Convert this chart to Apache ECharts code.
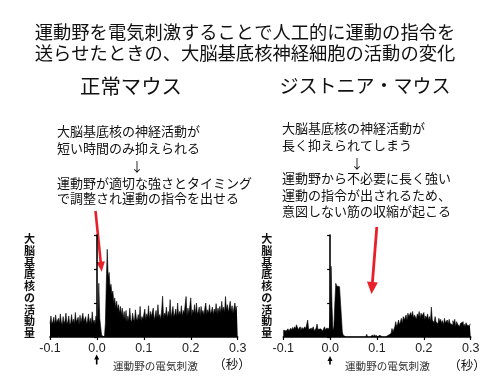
<!DOCTYPE html>
<html>
<head>
<meta charset="utf-8">
<script src="https://cdn.jsdelivr.net/npm/echarts@6/dist/echarts.min.js"></script>
<style>html,body{margin:0;padding:0;background:#fff}#c{width:500px;height:383px}</style>
</head>
<body>
<div id="c"></div>
<script>
// ---- data ----
const binStart = -0.1;
const binWidth = 0.002;
const xTicks = [-0.1, 0.0, 0.1, 0.2, 0.3];
const titleLines = ['運動野を電気刺激することで人工的に運動の指令を', '送らせたときの、大脳基底核神経細胞の活動の変化'];
const panelTitles = ['正常マウス', 'ジストニア・マウス'];
const yLabel = '大脳基底核の活動量';
const stimLabel = '運動野の電気刺激';
const unitLabel = '（秒）';
const noteNormal = ['大脳基底核の神経活動が', '短い時間のみ抑えられる', '↓', '運動野が適切な強さとタイミング', 'で調整され運動の指令を出せる'];
const noteDystonia = ['大脳基底核の神経活動が', '長く抑えられてしまう', '↓', '運動野から不必要に長く強い', '運動の指令が出されるため、', '意図しない筋の収縮が起こる'];

// activity per 2 ms bin, -0.1 s .. 0.3 s (200 bins)
const normalActivity = [
  0.40,0.62,0.38,0.45,0.58,0.35,0.65,0.42,0.40,0.55,
  0.38,0.68,0.44,0.36,0.60,0.40,0.48,0.70,0.38,0.45,
  0.62,0.36,0.42,0.66,0.40,0.52,0.38,0.72,0.44,0.40,
  0.58,0.36,0.64,0.42,0.38,0.70,0.45,0.40,0.60,0.37,
  0.48,0.68,0.40,0.55,0.36,0.74,0.42,0.50,0.38,0.62,
  0.45,0.60,1.58,0.55,0.30,0.05,0.10,0.00,0.05,0.40,
  1.60,2.58,1.75,1.90,1.45,1.55,1.25,1.35,1.00,1.15,
  0.85,1.05,0.80,0.95,0.70,0.90,0.65,0.85,0.55,0.75,
  0.50,0.78,0.45,0.62,0.48,0.85,0.50,0.44,0.70,0.52,
  0.46,0.80,0.55,0.48,0.66,0.50,0.90,0.47,0.60,0.52,
  0.55,0.82,0.50,0.68,0.58,0.92,0.52,0.75,0.60,0.55,
  0.85,0.50,0.62,0.78,0.55,0.95,0.58,0.66,0.52,0.80,
  1.20,0.56,0.70,0.62,0.88,0.55,0.75,0.60,1.10,0.58,
  0.72,0.90,0.60,0.68,0.82,0.58,1.00,0.62,0.75,0.65,
  0.92,0.60,0.78,0.70,0.65,1.19,0.62,0.85,0.68,0.72,
  1.15,0.62,0.80,0.70,0.95,0.65,1.00,0.68,0.75,0.88,
  0.62,0.90,0.70,0.78,0.64,0.85,1.00,0.66,0.80,0.70,
  0.95,0.68,0.75,0.88,0.65,0.82,0.72,0.98,0.68,0.85,
  0.72,0.90,0.70,1.05,0.75,0.88,0.72,1.19,0.80,0.95,
  0.72,0.88,1.05,0.75,0.92,0.70,0.85,1.00,0.78,0.90
];
const dystoniaActivity = [
  0.20,0.22,0.18,0.22,0.20,0.24,0.18,0.22,0.26,0.20,
  0.28,0.22,0.30,0.24,0.36,0.32,0.22,0.26,0.30,0.20,
  0.28,0.22,0.18,0.30,0.24,0.20,0.50,0.22,0.18,0.26,
  0.20,0.24,0.30,0.18,0.22,0.26,0.38,0.22,0.18,0.24,
  0.20,0.28,0.18,0.22,0.30,0.20,0.26,0.22,0.24,0.20,
  0.60,2.08,0.90,0.20,0.30,1.00,1.58,1.50,1.55,1.48,
  1.45,1.46,0.60,0.15,0.05,0.00,0.00,0.00,0.00,0.00,
  0.00,0.00,0.00,0.00,0.00,0.00,0.00,0.00,0.00,0.00,
  0.00,0.00,0.00,0.00,0.00,0.00,0.00,0.00,0.00,0.08,
  0.00,0.00,0.00,0.00,0.00,0.06,0.00,0.07,0.00,0.06,
  0.00,0.00,0.05,0.00,0.06,0.00,0.00,0.00,0.00,0.00,
  0.05,0.05,0.06,0.10,0.10,0.12,0.25,0.15,0.20,0.30,
  0.45,0.30,0.38,0.50,0.35,0.45,0.55,0.40,0.60,0.50,
  0.55,0.65,0.50,0.70,0.60,0.55,0.72,0.60,0.75,0.55,
  0.65,0.70,0.52,0.68,0.60,0.75,0.55,0.70,0.62,0.58,
  0.72,0.50,0.62,0.55,0.68,0.50,0.60,0.45,0.88,0.50,
  0.55,0.42,0.60,0.45,0.50,0.38,0.55,0.45,0.52,0.40,
  0.48,0.35,0.55,0.42,0.45,0.50,0.38,0.52,0.40,0.45,
  0.35,0.48,0.40,0.52,0.30,0.45,0.38,0.42,0.30,0.40,
  0.35,0.45,0.32,0.38,0.30,0.42,0.35,0.40,0.32,0.38
];

function toSteps(vals) {
  const pts = vals.map((v, i) => [Math.round((binStart + i * binWidth) * 10000) / 10000, v]);
  pts.push([Math.round((binStart + vals.length * binWidth) * 10000) / 10000, vals[vals.length - 1]]);
  return pts;
}

const JP = "'Noto Sans CJK JP', sans-serif";
const grids = [
  { left: 50, top: 235, width: 187.7, height: 102 },
  { left: 283.3, top: 235, width: 187.4, height: 102 }
];
function xAx(g) {
  return {
    type: 'value', gridIndex: g, min: xTicks[0], max: xTicks[xTicks.length - 1], interval: 0.1,
    axisLine: { lineStyle: { color: '#000', width: 1.6 } },
    axisTick: { length: 3, lineStyle: { color: '#000', width: 1.2 } },
    axisLabel: { margin: 5, fontSize: 12.5, color: '#222', fontFamily: "'Liberation Sans', Arial, sans-serif",
      formatter: v => v.toFixed(1) },
    splitLine: { show: false }
  };
}
function yAx(g) {
  return {
    type: 'value', gridIndex: g, min: 0, max: 3, interval: 1,
    axisLine: { show: true, lineStyle: { color: '#000', width: 1.6 } },
    axisTick: { show: true, length: 3, lineStyle: { color: '#000', width: 1.2 } },
    axisLabel: { show: false }, splitLine: { show: false }
  };
}
function hist(vals, g) {
  return {
    type: 'line', xAxisIndex: g, yAxisIndex: g, data: toSteps(vals), step: 'end',
    symbol: 'none', silent: true, animation: false,
    lineStyle: { color: '#000', width: 0.6 },
    areaStyle: { color: '#000', opacity: 1 }
  };
}

function txt(text, x, y, size, opts) {
  return { type: 'text', silent: true, style: Object.assign({
    text: text, x: x, y: y, fontSize: size, fontFamily: JP, fill: '#111',
    align: 'center', verticalAlign: 'middle' }, opts || {}) };
}
function arrow(x1, y1, x2, y2, w, hl, hw, color) {
  const dx = x2 - x1, dy = y2 - y1, L = Math.hypot(dx, dy);
  const ux = dx / L, uy = dy / L, px = -uy, py = ux;
  const bx = x2 - ux * hl, by = y2 - uy * hl;
  return [
    { type: 'line', silent: true, shape: { x1: x1, y1: y1, x2: bx + ux, y2: by + uy }, style: { stroke: color, lineWidth: w } },
    { type: 'polygon', silent: true, shape: { points: [[x2, y2], [bx + px * hw / 2, by + py * hw / 2], [bx - px * hw / 2, by - py * hw / 2]] }, style: { fill: color } }
  ];
}

const graphics = [];
graphics.push(txt(titleLines[0], 245, 32, 18.3));
graphics.push(txt(titleLines[1], 245, 53, 18.3));
graphics.push(txt(panelTitles[0], 131, 86, 20.4));
graphics.push(txt(panelTitles[1], 365, 86, 19));
const nl = [131, 148, 166, 183, 198];
noteNormal.forEach((t, i) => graphics.push(t === '↓' ? txt(t, 137, nl[i], 13) : txt(t, 57, nl[i], 13, { align: 'left' })));
const nr = [128, 145, 163, 178, 195, 211];
noteDystonia.forEach((t, i) => graphics.push(t === '↓' ? txt(t, 357, nr[i], 13) : txt(t, 282, nr[i], 13, { align: 'left' })));
// vertical y labels
const vlab = yLabel.split('').join('\n');
graphics.push(txt(vlab, 29.5, 286, 11, { fontWeight: 'bold', lineHeight: 11.7 }));
graphics.push(txt(vlab, 266.7, 286, 11, { fontWeight: 'bold', lineHeight: 11.7 }));
// stimulus labels
graphics.push(txt(stimLabel, 113, 366, 10.6, { align: 'left', fill: '#333' }));
graphics.push(txt(stimLabel, 345, 366, 10.6, { align: 'left', fill: '#333' }));
graphics.push(txt(unitLabel, 232, 364, 12.5));
graphics.push(txt(unitLabel, 467, 365, 12.5));
// black stimulus arrows
arrow(96.7, 364.5, 96.7, 354.5, 1.6, 5, 5, '#000').forEach(g => graphics.push(g));
arrow(330, 364.5, 330, 356, 1.6, 5, 5, '#000').forEach(g => graphics.push(g));
// red arrows
arrow(95.5, 211, 101.7, 271.7, 2.6, 10, 8.5, '#e8202a').forEach(g => graphics.push(g));
arrow(376.8, 227, 371.5, 294, 2.8, 12, 11, '#e8202a').forEach(g => graphics.push(g));

const chart = echarts.init(document.getElementById('c'), null, { renderer: 'canvas' });
chart.setOption({
  animation: false,
  backgroundColor: '#fff',
  grid: grids,
  xAxis: [xAx(0), xAx(1)],
  yAxis: [yAx(0), yAx(1)],
  series: [hist(normalActivity, 0), hist(dystoniaActivity, 1)],
  graphic: graphics
});
</script>
</body>
</html>
